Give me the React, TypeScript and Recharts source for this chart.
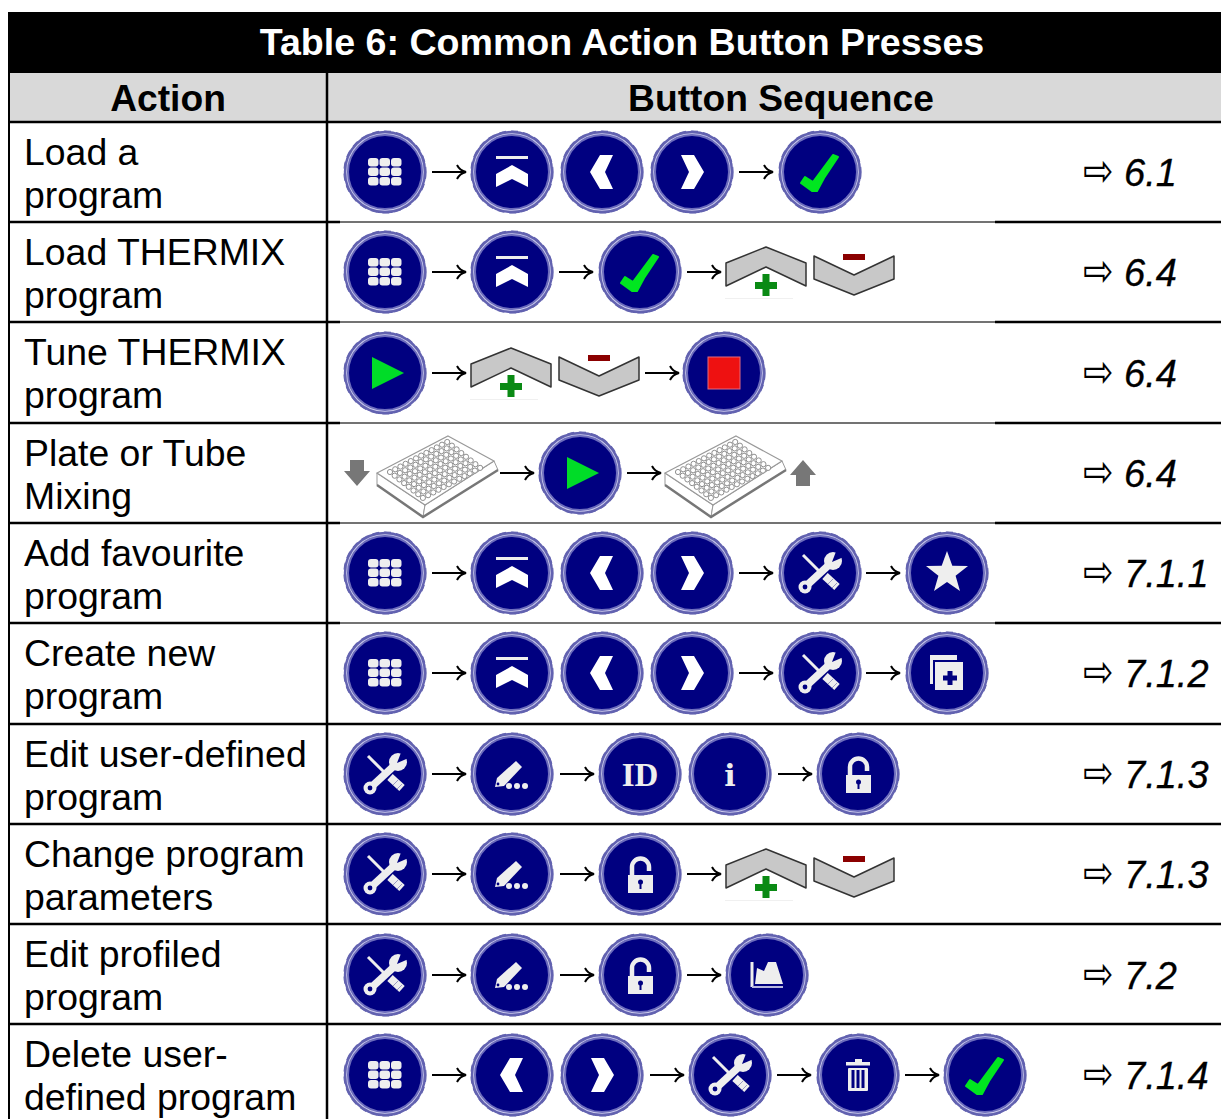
import { ScatterChart, Scatter, XAxis, YAxis, ReferenceArea, ReferenceLine } from 'recharts';

const TITLE = 'Table 6: Common Action Button Presses';
const HEADERS = ['Action', 'Button Sequence'];
const HEADER_X = [168, 781];

const actionLines = [
    ['Load a', 'program'],
    ['Load THERMIX', 'program'],
    ['Tune THERMIX', 'program'],
    ['Plate or Tube', 'Mixing'],
    ['Add favourite', 'program'],
    ['Create new', 'program'],
    ['Edit user-defined', 'program'],
    ['Change program', 'parameters'],
    ['Edit profiled', 'program'],
    ['Delete user-', 'defined program'],
];
const sections = ['6.1', '6.4', '6.4', '6.4', '7.1.1', '7.1.2', '7.1.3', '7.1.3', '7.2', '7.1.4'];

// button sequence per row and where each one sits
const rowIcons = [
    ['grid', 'arrow', 'up', 'left', 'right', 'arrow', 'check'],
    ['grid', 'arrow', 'up', 'arrow', 'check', 'arrow', 'plus', 'minus'],
    ['play', 'arrow', 'plus', 'minus', 'arrow', 'stop'],
    ['down', 'plate', 'arrow', 'play', 'arrow', 'plate', 'raise'],
    ['grid', 'arrow', 'up', 'left', 'right', 'arrow', 'tools', 'arrow', 'star'],
    ['grid', 'arrow', 'up', 'left', 'right', 'arrow', 'tools', 'arrow', 'copy'],
    ['tools', 'arrow', 'pencil', 'arrow', 'id', 'info', 'arrow', 'lock'],
    ['tools', 'arrow', 'pencil', 'arrow', 'lock', 'arrow', 'plus', 'minus'],
    ['tools', 'arrow', 'pencil', 'arrow', 'lock', 'arrow', 'profile'],
    ['grid', 'arrow', 'left', 'right', 'arrow', 'tools', 'arrow', 'trash', 'arrow', 'check'],
];
const rowCenters = [
    [385, 449, 512, 602, 692, 756, 820],
    [385, 449, 512, 576, 640, 704, 766, 854],
    [385, 449, 511, 599, 662, 724],
    [357, 437, 517, 580, 644, 725, 803],
    [385, 449, 512, 602, 692, 756, 820, 883, 947],
    [385, 449, 512, 602, 692, 756, 820, 883, 947],
    [385, 449, 512, 577, 640, 730, 795, 858],
    [385, 449, 512, 577, 640, 704, 766, 854],
    [385, 449, 512, 577, 640, 704, 767],
    [385, 449, 512, 602, 667, 730, 794, 858, 922, 985],
];
const rowMiddles = [172, 272, 373, 473, 573, 673, 774, 874, 975, 1075];
const rowTops = [122, 222, 322, 423, 523, 623, 724, 824, 924, 1024];

const NAVY = '#000080';
const LIGHT = '#eeeeee';
const FONT = '"Liberation Sans", Arial, sans-serif';

const iconPoints = rowIcons.flatMap((icons, r) =>
    icons.map((icon, i) => ({ x: rowCenters[r][i], y: rowMiddles[r], icon })),
);
const actionPoints = actionLines.flatMap((lines, r) =>
    lines.map((label, i) => ({ x: 24, y: rowTops[r] + 43 + i * 43, label })),
);
const sectionPoints = sections.map((label, r) => ({ x: 1124, y: rowMiddles[r] + 14, label }));
const headerPoints = HEADERS.map((label, i) => ({ x: HEADER_X[i], y: 111, label }));
const titlePoints = [{ x: 622, y: 55, label: TITLE }];

const Ring = ({ children }: any) => (
    <>
        <circle r={40} fill="#cfcfee" stroke="#6262b0" strokeWidth={2.4} />
        <circle r={41} fill="none" stroke="#6262b0" strokeWidth={1.2} strokeDasharray="7 5" />
        <circle r={37} fill={NAVY} stroke="#6c6cbc" strokeWidth={2} />
        {children}
    </>
);

const Tools = () => (
    <>
        <path d="M-17,-18 L0,-1" stroke={LIGHT} strokeWidth={3} />
        <path d="M5,3 L17,14" stroke={LIGHT} strokeWidth={8} />
        <path d="M8,11 L13,6 M12,15 L17,10" stroke="#9a9ac0" strokeWidth={1} />
        <path d="M-15,14 L11,-10" stroke={LIGHT} strokeWidth={7.5} />
        <circle cx={-15} cy={14} r={6.5} fill={LIGHT} />
        <circle cx={-15} cy={14} r={2.4} fill={NAVY} />
        <circle cx={13} cy={-12} r={9} fill={LIGHT} />
        <polygon points="12,-11 17,-24 26,-17" fill={NAVY} />
    </>
);

const PLATE_COLS = Array.from({ length: 12 }, (_, c) => c);
const PLATE_ROWS = [0, 1, 2, 3, 4, 5, 6, 7];
const Plate = () => (
    <>
        <path d="M-60,0 L-60,12 L-14,44 L-12,32 Z" fill="#fff" stroke="#999" strokeWidth={1} />
        <path d="M-12,32 L-14,44 L61,-3 L57,-12 Z" fill="#fff" stroke="#999" strokeWidth={1} />
        <path d="M-60,12 L-14,44 L61,-3" fill="none" stroke="#777" strokeWidth={2.5} />
        <path d="M11,-37 L57,-12 L-12,32 L-60,0 Z" fill="#fff" stroke="#999" strokeWidth={1.2} />
        {PLATE_COLS.map((c) =>
            PLATE_ROWS.map((r) => (
                <circle
                    key={`${c}-${r}`}
                    cx={-47 + c * 5.2 + r * 4.7}
                    cy={-1 - c * 2.73 + r * 3.7}
                    r={2.6}
                    fill="#fff"
                    stroke="#8f8f8f"
                    strokeWidth={1}
                />
            )),
        )}
    </>
);

const Lock = () => (
    <>
        <path d="M-8,2 V-7 A8.5,8.5 0 0 1 9,-7 V-3" fill="none" stroke={LIGHT} strokeWidth={4.5} />
        <rect x={-12} y={1} width={25} height={18} fill={LIGHT} />
        <circle cx={0.5} cy={8} r={2.5} fill={NAVY} />
        <rect x={-0.5} y={8} width={2} height={7} fill={NAVY} />
    </>
);

const glyphs: Record<string, () => any> = {
    grid: () => (
        <Ring>
            {[-17, -5.5, 6].map((x) =>
                [-14, -4.5, 5].map((y) => <rect key={`${x}${y}`} x={x} y={y} width={10.5} height={8.6} rx={3} fill={LIGHT} />),
            )}
        </Ring>
    ),
    up: () => (
        <Ring>
            <rect x={-16} y={-16} width={32} height={3} fill={LIGHT} />
            <polygon points="0,-7 16,2 16,15 0,7 -16,15 -16,2" fill="#fff" />
        </Ring>
    ),
    left: () => (
        <Ring>
            <polygon points="11,-17 -2,-17 -12,0 -2,17 11,17 3,0" fill="#fff" />
        </Ring>
    ),
    right: () => (
        <Ring>
            <polygon points="-11,-17 2,-17 12,0 2,17 -11,17 -3,0" fill="#fff" />
        </Ring>
    ),
    check: () => (
        <Ring>
            <polygon
                points="13,-17 18,-15 4,6 -3,19 -8,19 -19,11 -15,5 -7,10"
                fill="#00e620"
                stroke="#00e620"
                strokeWidth={2}
                strokeLinejoin="round"
            />
        </Ring>
    ),
    play: () => (
        <Ring>
            <polygon points="-13,-16 19,0 -13,16" fill="#00dc28" />
        </Ring>
    ),
    stop: () => (
        <Ring>
            <rect x={-16} y={-16} width={32} height={32} fill="#ee1111" stroke="#e06a80" strokeWidth={1} />
        </Ring>
    ),
    plus: () => (
        <>
            <polygon
                points="0,-25 40,-9 40,14 0,-5 -40,14 -40,-9"
                fill="#c8c8c8"
                stroke="#333"
                strokeWidth={1.5}
                strokeLinejoin="round"
            />
            <rect x={-11} y={10} width={22} height={7} fill="#0a8a14" />
            <rect x={-3.5} y={2} width={7} height={22} fill="#0a8a14" />
            <rect x={-41} y={26} width={68} height={1} fill="#f0f0f0" />
        </>
    ),
    minus: () => (
        <>
            <polygon
                points="-40,-16 0,3 40,-16 40,7 0,23 -40,7"
                fill="#c8c8c8"
                stroke="#333"
                strokeWidth={1.5}
                strokeLinejoin="round"
            />
            <rect x={-11} y={-18} width={22} height={6} fill="#8b0000" />
        </>
    ),
    plate: Plate,
    down: () => <polygon points="-7,-13 7,-13 7,-2 13,-2 0,13 -13,-2 -7,-2" fill="#777" />,
    raise: () => <polygon points="-7,13 7,13 7,2 13,2 0,-13 -13,2 -7,2" fill="#777" />,
    tools: () => (
        <Ring>
            <Tools />
        </Ring>
    ),
    star: () => (
        <Ring>
            <polygon
                points="0,-22 5.3,-7.3 21,-7 8.6,2.8 13,18 0,9 -13,18 -8.6,2.8 -21,-7 -5.3,-7.3"
                fill={LIGHT}
            />
        </Ring>
    ),
    copy: () => (
        <Ring>
            <rect x={-17} y={-18} width={27} height={29} fill={LIGHT} />
            <rect x={-14} y={-13} width={30} height={32} fill={NAVY} />
            <rect x={-12} y={-11} width={28} height={28} fill={LIGHT} />
            <rect x={-4} y={2.5} width={14} height={5} fill={NAVY} />
            <rect x={0.5} y={-2} width={5} height={14} fill={NAVY} />
        </Ring>
    ),
    pencil: () => (
        <Ring>
            <polygon points="-17,13 -15,4 4,-13 10,-7 -8,12" fill={LIGHT} />
            <circle cx={-14} cy={10} r={1.4} fill={NAVY} />
            <circle cx={-3} cy={12} r={3} fill={LIGHT} />
            <circle cx={5} cy={12} r={3} fill={LIGHT} />
            <circle cx={13} cy={12} r={3} fill={LIGHT} />
        </Ring>
    ),
    id: () => (
        <Ring>
            <text textAnchor="middle" y={12} fontFamily='"Liberation Serif", serif' fontWeight="bold" fontSize={33} fill={LIGHT}>
                ID
            </text>
        </Ring>
    ),
    info: () => (
        <Ring>
            <text textAnchor="middle" y={12} fontFamily='"DejaVu Serif", serif' fontWeight="bold" fontSize={30} fill={LIGHT}>
                i
            </text>
        </Ring>
    ),
    lock: () => (
        <Ring>
            <Lock />
        </Ring>
    ),
    profile: () => (
        <Ring>
            <path d="M-15,-13 V12" stroke={LIGHT} strokeWidth={3} />
            <path d="M-15,12 H16" stroke="#b8b8e0" strokeWidth={2} />
            <polygon points="-12,9 -10,-7 -3,-4 1,-13 9,-13 16,9" fill={LIGHT} />
        </Ring>
    ),
    trash: () => (
        <Ring>
            <rect x={-3} y={-16} width={7} height={3} fill={LIGHT} />
            <rect x={-12} y={-13} width={24} height={3.5} fill={LIGHT} />
            <rect x={-10} y={-7} width={20} height={23} rx={1} fill={LIGHT} />
            <rect x={-6.5} y={-5} width={3} height={18} fill={NAVY} />
            <rect x={-1.5} y={-5} width={3} height={18} fill={NAVY} />
            <rect x={3.5} y={-5} width={3} height={18} fill={NAVY} />
        </Ring>
    ),
    arrow: () => (
        <path d="M-17,0 H16 M8,-7 C10,-3 13,-1 17,0 C13,1 10,3 8,7" fill="none" stroke="#000" strokeWidth={2} />
    ),
};

const IconShape = ({ cx, cy, payload }: any) => {
    const Glyph = glyphs[payload.icon];
    return (
        <g transform={`translate(${cx},${cy})`}>
            <Glyph />
        </g>
    );
};

const ActionText = ({ cx, cy, payload }: any) => (
    <text x={cx} y={cy} fontFamily={FONT} fontSize={37.4} fill="#000">
        {payload.label}
    </text>
);

const HeaderText = ({ cx, cy, payload }: any) => (
    <text x={cx} y={cy} textAnchor="middle" fontFamily={FONT} fontWeight="bold" fontSize={37.2} fill="#000">
        {payload.label}
    </text>
);

const TitleText = ({ cx, cy, payload }: any) => (
    <text x={cx} y={cy} textAnchor="middle" fontFamily={FONT} fontWeight="bold" fontSize={37.6} fill="#fff">
        {payload.label}
    </text>
);

const SectionText = ({ cx, cy, payload }: any) => (
    <g>
        <text
            transform={`translate(${cx - 41},${cy}) scale(1,1.25)`}
            fontFamily='"DejaVu Sans", sans-serif'
            fontStyle="italic"
            fontSize={36}
            fill="#000"
        >
            ⇨
        </text>
        <text x={cx} y={cy} fontFamily={FONT} fontStyle="italic" fontSize={38} fill="#000" stroke="#000" strokeWidth={0.3}>
            {payload.label}
        </text>
    </g>
);

const seg = (x1: number, x2: number, y: number) => [
    { x: x1, y },
    { x: x2, y },
];

export default function App() {
    return (
        <div style={{ position: 'absolute', left: 0, top: 0, width: 1221, height: 1119, background: '#fff' }}>
            <ScatterChart width={1221} height={1119} margin={{ top: 0, right: 0, bottom: 0, left: 0 }}>
                <XAxis type="number" dataKey="x" domain={[0, 1221]} hide />
                <YAxis type="number" dataKey="y" domain={[0, 1119]} reversed hide />

                <ReferenceArea x1={8} x2={1221} y1={12} y2={73} fill="#000" fillOpacity={1} stroke="none" />
                <ReferenceArea x1={8} x2={1221} y1={73} y2={122} fill="#d9d9d9" fillOpacity={1} stroke="none" />

                <ReferenceLine segment={[{ x: 9, y: 12 }, { x: 9, y: 1119 }]} stroke="#000" strokeWidth={2} />
                <ReferenceLine segment={[{ x: 327, y: 73 }, { x: 327, y: 1119 }]} stroke="#000" strokeWidth={2.5} />
                {rowTops.map((y, i) =>
                    i === 0 || i > 5 ? (
                        <ReferenceLine key={y} segment={seg(8, 1221, y)} stroke="#000" strokeWidth={2.5} />
                    ) : (
                        [
                            <ReferenceLine key={`${y}a`} segment={seg(8, 340, y)} stroke="#000" strokeWidth={2.5} />,
                            <ReferenceLine key={`${y}b`} segment={seg(340, 995, y)} stroke="#444" strokeWidth={1.6} />,
                            <ReferenceLine key={`${y}c`} segment={seg(995, 1221, y)} stroke="#000" strokeWidth={2.5} />,
                        ]
                    ),
                )}

                <Scatter data={titlePoints} shape={TitleText} isAnimationActive={false} />
                <Scatter data={headerPoints} shape={HeaderText} isAnimationActive={false} />
                <Scatter data={actionPoints} shape={ActionText} isAnimationActive={false} />
                <Scatter data={iconPoints} shape={IconShape} isAnimationActive={false} />
                <Scatter data={sectionPoints} shape={SectionText} isAnimationActive={false} />
            </ScatterChart>
        </div>
    );
}
